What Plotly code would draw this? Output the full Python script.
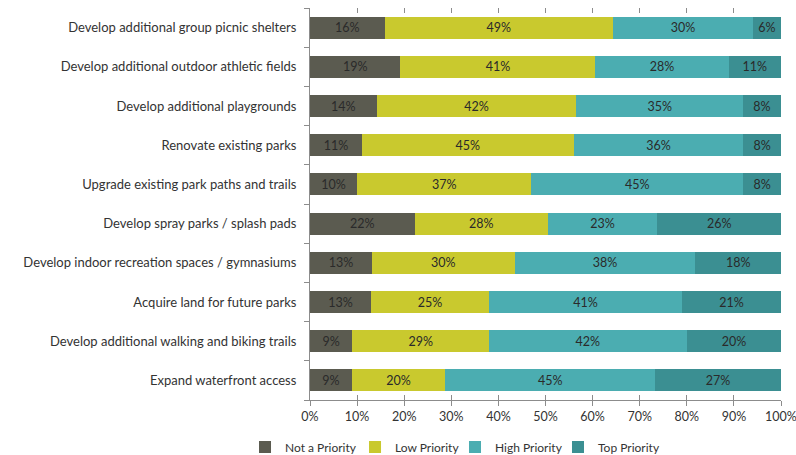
import plotly.graph_objects as go

categories = [
    "Develop additional group picnic shelters",
    "Develop additional outdoor athletic fields",
    "Develop additional playgrounds",
    "Renovate existing parks",
    "Upgrade existing park paths and trails",
    "Develop spray parks / splash pads",
    "Develop indoor recreation spaces / gymnasiums",
    "Acquire land for future parks",
    "Develop additional walking and biking trails",
    "Expand waterfront access",
]
not_priority = [16, 19, 14, 11, 10, 22, 13, 13, 9, 9]
low_priority = [49, 41, 42, 45, 37, 28, 30, 25, 29, 20]
high_priority = [30, 28, 35, 36, 45, 23, 38, 41, 42, 45]
top_priority = [6, 11, 8, 8, 8, 26, 18, 21, 20, 27]

series_names = ["Not a Priority", "Low Priority", "High Priority", "Top Priority"]
series_values = [not_priority, low_priority, high_priority, top_priority]
colors = ["#5b5b50", "#c9c92e", "#4badb1", "#3b8f92"]

tick_vals = [0, 10, 20, 30, 40, 50, 60, 70, 80, 90, 100]
tick_text = ["0%", "10%", "20%", "30%", "40%", "50%", "60%", "70%", "80%", "90%", "100%"]

FONT = "Lato"
W, H = 796, 455

legend_ids = ["legend", "legend2", "legend3", "legend4"]
legend_x = [0.3078, 0.446, 0.5716, 0.701]

fig = go.Figure()
for name, vals, col, lid in zip(series_names, series_values, colors, legend_ids):
    fig.add_trace(go.Bar(
        y=categories,
        x=vals,
        name=name,
        orientation="h",
        legend=lid,
        marker=dict(color=col, line=dict(width=0)),
        text=[f"{v}%" for v in vals],
        textposition="inside",
        insidetextanchor="middle",
        textangle=0,
        constraintext="none",
        textfont=dict(family=FONT, size=12.5, color="#2a2a2a"),
    ))

# invisible traces to drive the extra tick-mark axes
for ax in ["x2", "x3"]:
    fig.add_trace(go.Scatter(x=[0, 100], y=[categories[0], categories[0]], xaxis=ax,
                             mode="markers", marker=dict(opacity=0), showlegend=False,
                             hoverinfo="skip"))

legend_layout = {}
for lid, lx in zip(legend_ids, legend_x):
    legend_layout[lid] = dict(
        orientation="h",
        xref="container",
        x=lx,
        xanchor="left",
        yref="container",
        y=1 - 447 / H,
        yanchor="middle",
        font=dict(family=FONT, size=12, color="#333333"),
        itemwidth=30,
        bgcolor="rgba(0,0,0,0)",
    )

fig.update_layout(
    barmode="stack",
    barnorm="percent",
    bargap=0.44,
    width=W,
    height=H,
    margin=dict(l=310, r=15, t=8, b=55),
    paper_bgcolor="white",
    plot_bgcolor="white",
    font=dict(family=FONT, size=12, color="#333333"),
    xaxis=dict(
        range=[0, 100],
        tickvals=tick_vals,
        ticktext=tick_text,
        showgrid=False,
        zeroline=False,
        showline=True,
        linecolor="#8c8c8c",
        linewidth=1,
        ticks="outside",
        ticklen=5,
        tickcolor="#8c8c8c",
        automargin=False,
        ticklabeloverflow="allow",
        tickfont=dict(family=FONT, size=12.5, color="#333333"),
    ),
    xaxis2=dict(
        overlaying="x",
        side="top",
        range=[0, 100],
        tickvals=tick_vals[1:],
        showticklabels=False,
        showgrid=False,
        zeroline=False,
        showline=False,
        ticks="inside",
        ticklen=5,
        tickcolor="#8c8c8c",
    ),
    xaxis3=dict(
        overlaying="x",
        side="bottom",
        range=[0, 100],
        tickvals=tick_vals,
        showticklabels=False,
        showgrid=False,
        zeroline=False,
        showline=False,
        ticks="inside",
        ticklen=5,
        tickcolor="#8c8c8c",
    ),
    yaxis=dict(
        categoryorder="array",
        categoryarray=categories[::-1],
        autorange=False,
        range=[-0.5, len(categories) - 0.5],
        showgrid=False,
        zeroline=False,
        showline=True,
        linecolor="#8c8c8c",
        linewidth=1,
        ticks="outside",
        tickson="boundaries",
        ticklen=5,
        tickcolor="#8c8c8c",
        ticklabelstandoff=10,
        automargin=False,
        tickfont=dict(family=FONT, size=13, color="#333333"),
    ),
    showlegend=True,
    **legend_layout,
)

fig.write_html(
    "out.html",
    config={"displayModeBar": False},
    post_script="document.body.style.margin='0';document.body.style.overflow='hidden';",
)
